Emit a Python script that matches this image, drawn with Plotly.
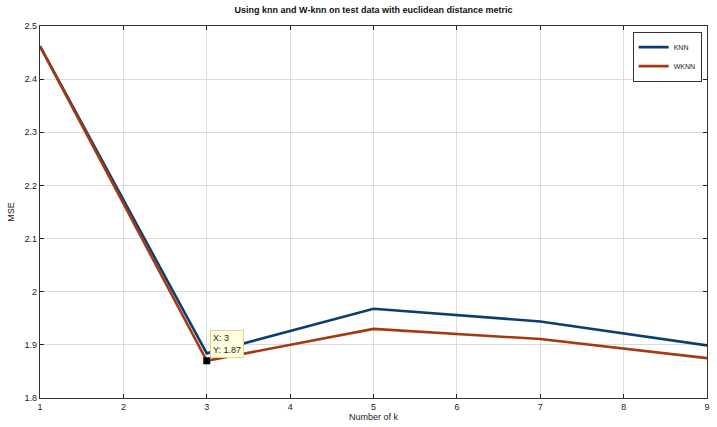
import plotly.graph_objects as go

# Mean squared error for plain and weighted k-nearest-neighbours on test data
k_values = [1, 3, 5, 7, 9]
mse_knn = [2.462, 1.884, 1.968, 1.944, 1.899]
mse_wknn = [2.462, 1.870, 1.930, 1.911, 1.875]
x_ticks = [1, 2, 3, 4, 5, 6, 7, 8, 9]
y_ticks = [1.8, 1.9, 2.0, 2.1, 2.2, 2.3, 2.4, 2.5]
y_tick_text = ["1.8", "1.9", "2", "2.1", "2.2", "2.3", "2.4", "2.5"]

tip_x, tip_y = 3, 1.87

fig = go.Figure()
fig.add_trace(go.Scatter(x=k_values, y=mse_knn, mode="lines", name="KNN",
                         line=dict(color="#0c3f70", width=2.6)))
fig.add_trace(go.Scatter(x=k_values, y=mse_wknn, mode="lines", name="WKNN",
                         line=dict(color="#a53a12", width=2.6)))
# data cursor marker
fig.add_trace(go.Scatter(x=[tip_x], y=[tip_y], mode="markers", showlegend=False,
                         marker=dict(symbol="square", size=7, color="black")))

fig.add_annotation(x=tip_x, y=tip_y, xref="x", yref="y",
                   text=f"X: {tip_x}<br>Y: {tip_y}", showarrow=False,
                   xanchor="left", yanchor="bottom", xshift=3, yshift=3,
                   align="left", bgcolor="#ffffe0", bordercolor="#d8d890",
                   borderwidth=1, borderpad=2,
                   font=dict(family="Liberation Sans, Arial", size=9, color="#222"))

axis_common = dict(showline=True, linecolor="#333", linewidth=1.2, mirror="ticks",
                   ticks="inside", ticklen=4, tickcolor="#222",
                   showgrid=True, gridcolor="#dcdcdc", gridwidth=1,
                   zeroline=False,
                   tickfont=dict(family="Liberation Sans, Arial", size=9, color="#222"))

fig.update_layout(
    width=717, height=427,
    margin=dict(l=40, r=7, t=26, b=17),
    paper_bgcolor="white", plot_bgcolor="white",
    title=dict(text="<b>Using knn and W-knn on test data with euclidean distance metric</b>",
               x=0.5, xref="paper", y=0.985, yanchor="top",
               font=dict(family="Liberation Sans, Arial", size=9, color="#111")),
    xaxis=dict(range=[1, 9], tickvals=x_ticks,
               title=dict(text="Number of k", standoff=2,
                          font=dict(family="Liberation Sans, Arial", size=9, color="#222")),
               **axis_common),
    yaxis=dict(range=[1.8, 2.5], tickvals=y_ticks, ticktext=y_tick_text,
               title=dict(text="MSE", standoff=8,
                          font=dict(family="Liberation Sans, Arial", size=9, color="#222")),
               **axis_common),
    legend=dict(x=0.992, y=0.985, xanchor="right", yanchor="top",
                bgcolor="white", bordercolor="#333", borderwidth=1,
                font=dict(family="Liberation Sans, Arial", size=7, color="#222"),
                itemwidth=30, tracegroupgap=0),
)

fig.write_html("out.html")
